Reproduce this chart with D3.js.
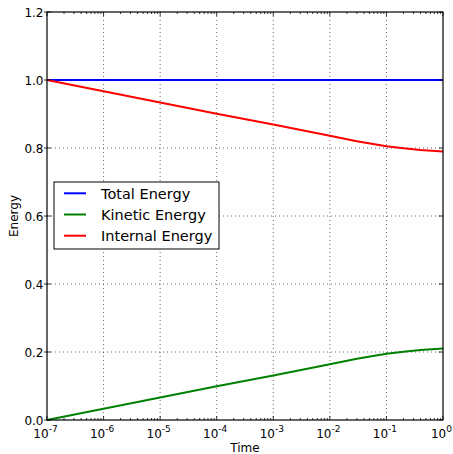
<!DOCTYPE html>
<html>
<head>
<meta charset="utf-8">
<title>Energy vs Time</title>
<style>
  body { margin: 0; background: #fff; }
  svg { display: block; font-family: "DejaVu Sans", sans-serif; }
</style>
</head>
<body>
<svg id="chart" width="453" height="454"></svg>
<script src="https://d3js.org/d3.v7.min.js"></script>
<script>
// data
let times    = [1e-7, 1e-6, 1e-5, 1e-4, 1e-3, 1e-2, 3e-2, 1e-1, 2e-1, 4e-1, 1];
let total    = [1, 1, 1, 1, 1, 1, 1, 1, 1, 1, 1];
let kinetic  = [0, 0.033, 0.066, 0.099, 0.131, 0.164, 0.180, 0.195, 0.201, 0.206, 0.210];
let internal = [1, 0.967, 0.934, 0.901, 0.869, 0.836, 0.820, 0.805, 0.799, 0.794, 0.790];
let seriesNames  = ["Total Energy", "Kinetic Energy", "Internal Energy"];
let seriesColors = ["#0000ff", "#008000", "#ff0000"];
let yTicks = [0, 0.2, 0.4, 0.6, 0.8, 1.0, 1.2];
let xTicks = [1e-7, 1e-6, 1e-5, 1e-4, 1e-3, 1e-2, 1e-1, 1];

let series = [total, kinetic, internal];

let svg = d3.select("#chart");
let pLeft = 47, pRight = 443, pTop = 12, pBottom = 420;

let x = d3.scaleLog().domain([1e-7, 1]).range([pLeft, pRight]);
let y = d3.scaleLinear().domain([0, 1.2]).range([pBottom, pTop]);

// grid
svg.append("g").selectAll("line")
    .data(xTicks.slice(1, -1))
    .join("line")
    .attr("x1", d => x(d)).attr("x2", d => x(d))
    .attr("y1", pTop).attr("y2", pBottom)
    .attr("stroke", "#000").attr("stroke-width", 0.6)
    .attr("stroke-dasharray", "1,3");
svg.append("g").selectAll("line")
    .data(yTicks.slice(1, -1))
    .join("line")
    .attr("x1", pLeft).attr("x2", pRight)
    .attr("y1", d => y(d)).attr("y2", d => y(d))
    .attr("stroke", "#000").attr("stroke-width", 0.6)
    .attr("stroke-dasharray", "1,3");

// lines
let line = d3.line().x((d, i) => x(times[i])).y(d => y(d));
svg.append("g").selectAll("path")
    .data(series)
    .join("path")
    .attr("d", d => line(d))
    .attr("fill", "none")
    .attr("stroke", (d, i) => seriesColors[i])
    .attr("stroke-width", 2);

// frame
svg.append("rect")
    .attr("x", pLeft).attr("y", pTop)
    .attr("width", pRight - pLeft).attr("height", pBottom - pTop)
    .attr("fill", "none").attr("stroke", "#000").attr("stroke-width", 1.2);

// x ticks (major + minor, top and bottom, inward)
let minor = [];
for (let e = -7; e < 0; e++) {
    for (let m = 2; m < 10; m++) minor.push(m * Math.pow(10, e));
}
let tg = svg.append("g").attr("stroke", "#000").attr("stroke-width", 0.8);
tg.selectAll(".xmaj").data(xTicks).join("line")
    .attr("x1", d => x(d)).attr("x2", d => x(d))
    .attr("y1", pBottom).attr("y2", pBottom - 4);
tg.selectAll(".xmajt").data(xTicks).join("line")
    .attr("x1", d => x(d)).attr("x2", d => x(d))
    .attr("y1", pTop).attr("y2", pTop + 4);
tg.selectAll(".xmin").data(minor).join("line")
    .attr("x1", d => x(d)).attr("x2", d => x(d))
    .attr("y1", pBottom).attr("y2", pBottom - 2);
tg.selectAll(".xmint").data(minor).join("line")
    .attr("x1", d => x(d)).attr("x2", d => x(d))
    .attr("y1", pTop).attr("y2", pTop + 2);
tg.selectAll(".ymaj").data(yTicks).join("line")
    .attr("x1", pLeft - 3).attr("x2", pLeft + 4)
    .attr("y1", d => y(d)).attr("y2", d => y(d));
tg.selectAll(".ymajr").data(yTicks).join("line")
    .attr("x1", pRight).attr("x2", pRight - 4)
    .attr("y1", d => y(d)).attr("y2", d => y(d));

// tick labels
svg.append("g").selectAll("text")
    .data(yTicks)
    .join("text")
    .attr("x", pLeft - 3.5)
    .attr("y", d => y(d) + 4.5)
    .attr("text-anchor", "end")
    .attr("font-size", 12)
    .text(d => d.toFixed(1));

let xl = svg.append("g").selectAll("text")
    .data(xTicks)
    .join("text")
    .attr("x", d => x(d) - 1.5)
    .attr("y", 437.5)
    .attr("text-anchor", "middle")
    .attr("font-size", 12);
xl.append("tspan").text("10");
xl.append("tspan")
    .attr("dy", -6)
    .attr("font-size", 9)
    .text(d => {
        let e = Math.round(Math.log10(d));
        return e < 0 ? "-" + (-e) : String(e);
    });

// axis labels
svg.append("text")
    .attr("x", (pLeft + pRight) / 2).attr("y", 452)
    .attr("text-anchor", "middle").attr("font-size", 12)
    .text("Time");
svg.append("text")
    .attr("transform", "translate(18," + ((pTop + pBottom) / 2) + ") rotate(-90)")
    .attr("text-anchor", "middle").attr("font-size", 12)
    .text("Energy");

// legend
let lg = svg.append("g");
lg.append("rect")
    .attr("x", 54).attr("y", 182)
    .attr("width", 165).attr("height", 67)
    .attr("fill", "#fff").attr("stroke", "#000").attr("stroke-width", 1);
let rows = lg.selectAll("g.row")
    .data(seriesNames)
    .join("g")
    .attr("transform", (d, i) => "translate(0," + (193.3 + i * 21.2) + ")");
rows.append("line")
    .attr("x1", 64).attr("x2", 86)
    .attr("stroke", (d, i) => seriesColors[i])
    .attr("stroke-width", 2);
rows.append("text")
    .attr("x", 101).attr("y", 5.5)
    .attr("font-size", 14.5)
    .text(d => d);
</script>
</body>
</html>
